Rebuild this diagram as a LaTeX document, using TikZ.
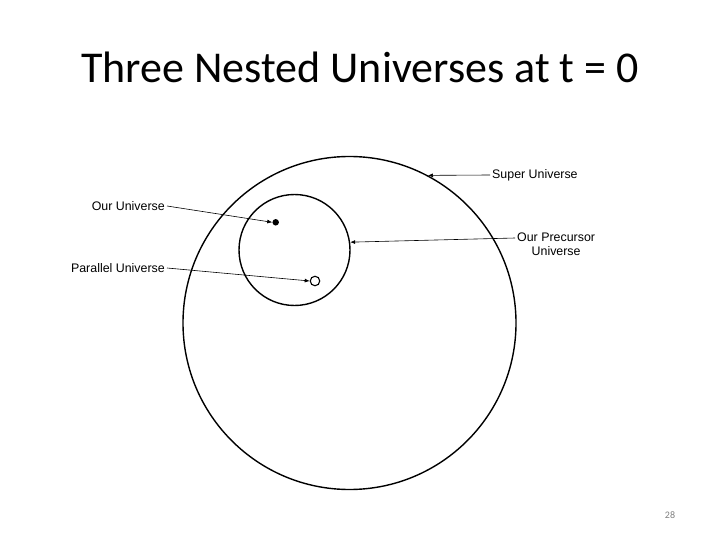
\documentclass[tikz,border=0pt]{standalone}
\usepackage{fontspec}
\setmainfont{Carlito}
\newfontfamily\labelfont{Liberation Sans}
\usetikzlibrary{arrows.meta}
\begin{document}
\begin{tikzpicture}[x=1pt,y=-1pt,
  ring/.style={draw=black,line width=1.4pt},
  lbl/.style={font=\labelfont\fontsize{12.4}{14}\selectfont,inner sep=2pt,align=center},
  pointer/.style={draw=black,line width=0.6pt,-{Latex[length=5pt,width=4pt]}}]
\useasboundingbox (0,0) rectangle (720,540);
\fill[white] (0,0) rectangle (720,540);
\node[font=\fontsize{44}{52}\selectfont] (title) at (360,67) {Three Nested Universes at t = 0};
\node[circle,ring,minimum size=333pt,inner sep=0pt] (super) at (349.5,323) {};
\node[circle,ring,minimum size=111pt,inner sep=0pt] (prec) at (294.5,250) {};
\node[circle,fill=black,minimum size=6.5pt,inner sep=0pt] (our) at (275.7,222.3) {};
\node[circle,draw=black,line width=1.1pt,fill=white,minimum size=9.5pt,inner sep=0pt] (par) at (315,281) {};
\node[lbl,anchor=west] (lsuper) at (490,175) {Super Universe};
\node[lbl,anchor=east] (lour) at (167,206) {Our Universe};
\node[lbl,anchor=west] (lprec) at (515,244) {Our Precursor\\Universe};
\node[lbl,anchor=east] (lpar) at (167,268) {Parallel Universe};
\node[font=\fontsize{10}{12}\selectfont,text=gray] (page) at (670,515) {28};
\draw[pointer] (lsuper.west) -- (super.62);
\draw[pointer] (lour.east) -- (our.west);
\draw[pointer] (lprec.west |- 0,238) -- (prec.8);
\draw[pointer] (lpar.east) -- (par.west);
\end{tikzpicture}
\end{document}
